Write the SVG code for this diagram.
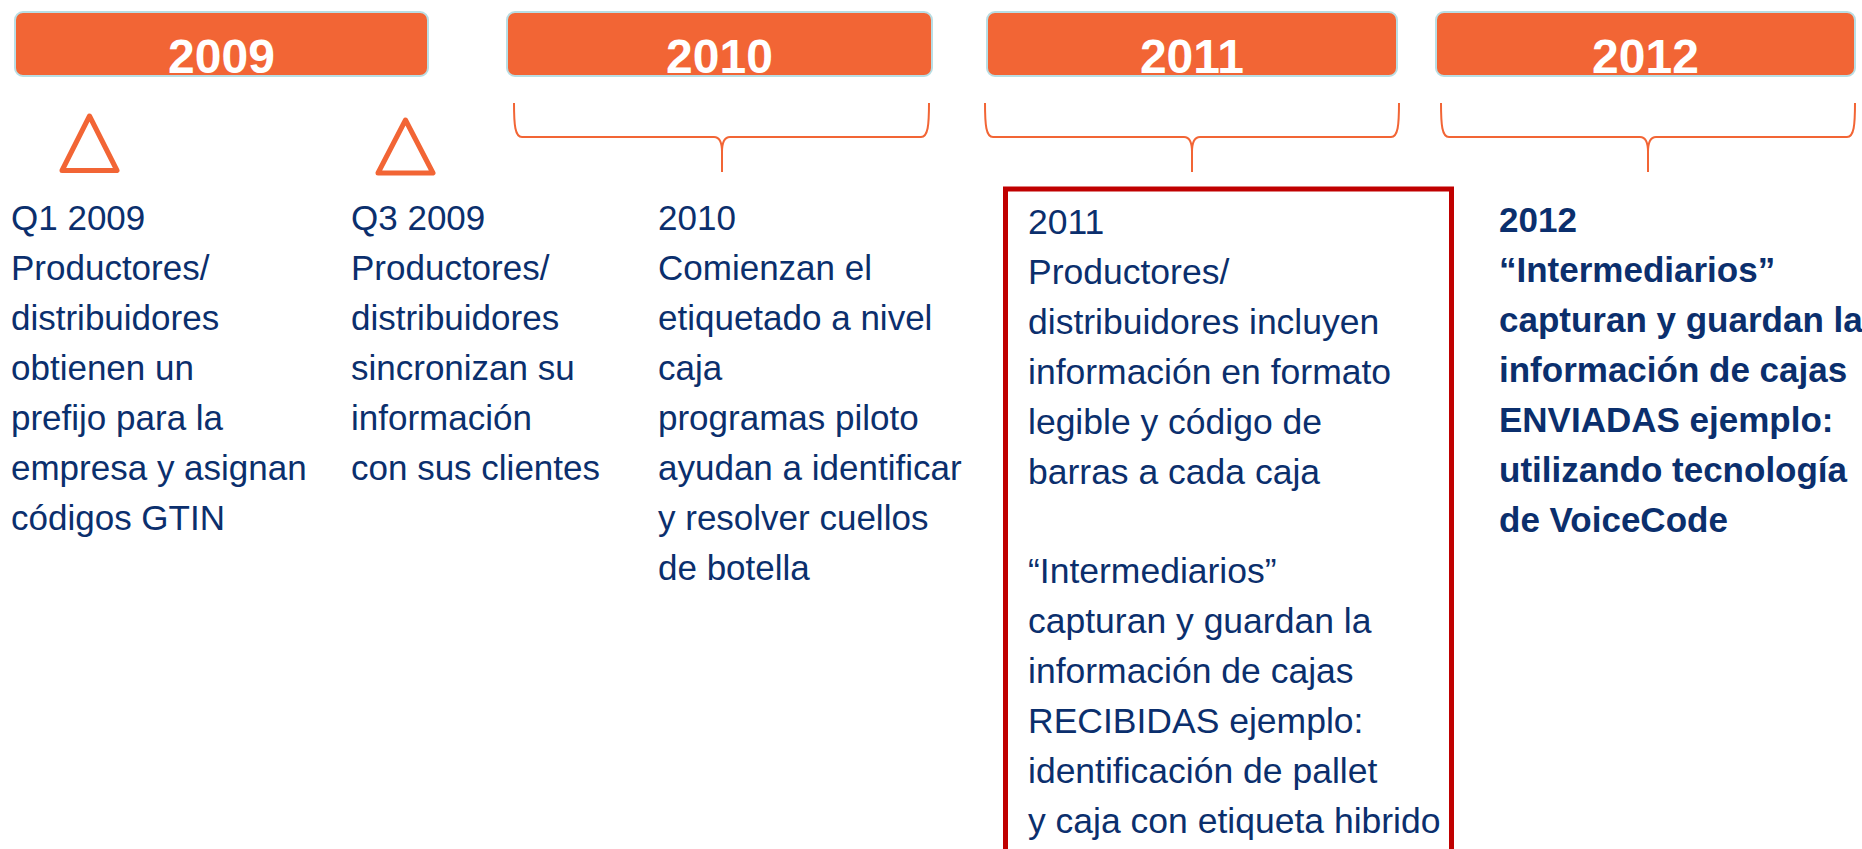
<svg xmlns="http://www.w3.org/2000/svg" width="1862" height="849" viewBox="0 0 1862 849">
<style>
.bar{fill:#F26535;stroke:#B9DEE4;stroke-width:2}
.yr{font-family:"Liberation Sans",Arial,sans-serif;font-weight:bold;font-size:48px;fill:#FFFFFF;text-anchor:middle}
.tri{fill:none;stroke:#F26535;stroke-width:5;stroke-linejoin:round}
.brace{fill:none;stroke:#F26535;stroke-width:2}
.t{font-family:"Liberation Sans",Arial,sans-serif;font-size:35px;fill:#0B2F6D}
.w{font-size:35.5px}
.b{font-weight:bold}
.hl{fill:none;stroke:#C00000;stroke-width:5}
</style>
<rect width="1862" height="849" fill="#FFFFFF"/>
<g id="header-2009"><rect class="bar" x="15" y="12" width="413" height="64" rx="8"/><text class="yr" x="221.5" y="73">2009</text></g>
<g id="header-2010"><rect class="bar" x="507" y="12" width="425" height="64" rx="8"/><text class="yr" x="719.5" y="73">2010</text></g>
<g id="header-2011"><rect class="bar" x="987" y="12" width="410" height="64" rx="8"/><text class="yr" x="1192" y="73">2011</text></g>
<g id="header-2012"><rect class="bar" x="1436" y="12" width="419" height="64" rx="8"/><text class="yr" x="1645.5" y="73">2012</text></g>
<g id="connectors">
<path class="tri" d="M89.5,116 L117,170.5 L62,170.5 Z"/>
<path class="tri" d="M405.5,120 L433,173 L378,173 Z"/>
<path class="brace" d="M514,103 C514,125 515,137 522,137 L714,137 C719,137 722,142 722,152 L722,172 M722,152 C722,142 725,137 730,137 L921,137 C928,137 929,125 929,103"/>
<path class="brace" d="M985,103 C985,125 986,137 993,137 L1184,137 C1189,137 1192,142 1192,152 L1192,172 M1192,152 C1192,142 1195,137 1200,137 L1391,137 C1398,137 1399,125 1399,103"/>
<path class="brace" d="M1441,103 C1441,125 1442,137 1449,137 L1640,137 C1645,137 1648,142 1648,152 L1648,172 M1648,152 C1648,142 1651,137 1656,137 L1847,137 C1854,137 1855,125 1855,103"/>
</g>
<g id="q1-2009">
<text class="t" x="11" y="230">Q1 2009</text>
<text class="t" x="11" y="280">Productores/</text>
<text class="t" x="11" y="330">distribuidores</text>
<text class="t" x="11" y="380">obtienen un</text>
<text class="t" x="11" y="430">prefijo para la</text>
<text class="t" x="11" y="480">empresa y asignan</text>
<text class="t" x="11" y="530">códigos GTIN</text>
</g>
<g id="q3-2009">
<text class="t" x="351" y="230">Q3 2009</text>
<text class="t" x="351" y="280">Productores/</text>
<text class="t" x="351" y="330">distribuidores</text>
<text class="t" x="351" y="380">sincronizan su</text>
<text class="t" x="351" y="430">información</text>
<text class="t" x="351" y="480">con sus clientes</text>
</g>
<g id="y2010">
<text class="t" x="658" y="230">2010</text>
<text class="t" x="658" y="280">Comienzan el</text>
<text class="t" x="658" y="330">etiquetado a nivel</text>
<text class="t" x="658" y="380">caja</text>
<text class="t" x="658" y="430">programas piloto</text>
<text class="t" x="658" y="480">ayudan a identificar</text>
<text class="t" x="658" y="530">y resolver cuellos</text>
<text class="t" x="658" y="580">de botella</text>
</g>
<g id="y2011">
<rect class="hl" x="1005.5" y="189" width="446" height="700"/>
<text class="t w" x="1028" y="234">2011</text>
<text class="t w" x="1028" y="284">Productores/</text>
<text class="t w" x="1028" y="334">distribuidores incluyen</text>
<text class="t w" x="1028" y="384">información en formato</text>
<text class="t w" x="1028" y="434">legible y código de</text>
<text class="t w" x="1028" y="484">barras a cada caja</text>
<text class="t w" x="1028" y="583">“Intermediarios”</text>
<text class="t w" x="1028" y="633">capturan y guardan la</text>
<text class="t w" x="1028" y="683">información de cajas</text>
<text class="t w" x="1028" y="733">RECIBIDAS ejemplo:</text>
<text class="t w" x="1028" y="783">identificación de pallet</text>
<text class="t w" x="1028" y="833">y caja con etiqueta hibrido</text>
</g>
<g id="y2012">
<text class="t b" x="1499" y="232">2012</text>
<text class="t b" x="1499" y="282">“Intermediarios”</text>
<text class="t b" x="1499" y="332">capturan y guardan la</text>
<text class="t b" x="1499" y="382">información de cajas</text>
<text class="t b" x="1499" y="432">ENVIADAS ejemplo:</text>
<text class="t b" x="1499" y="482">utilizando tecnología</text>
<text class="t b" x="1499" y="532">de VoiceCode</text>
</g>
</svg>
